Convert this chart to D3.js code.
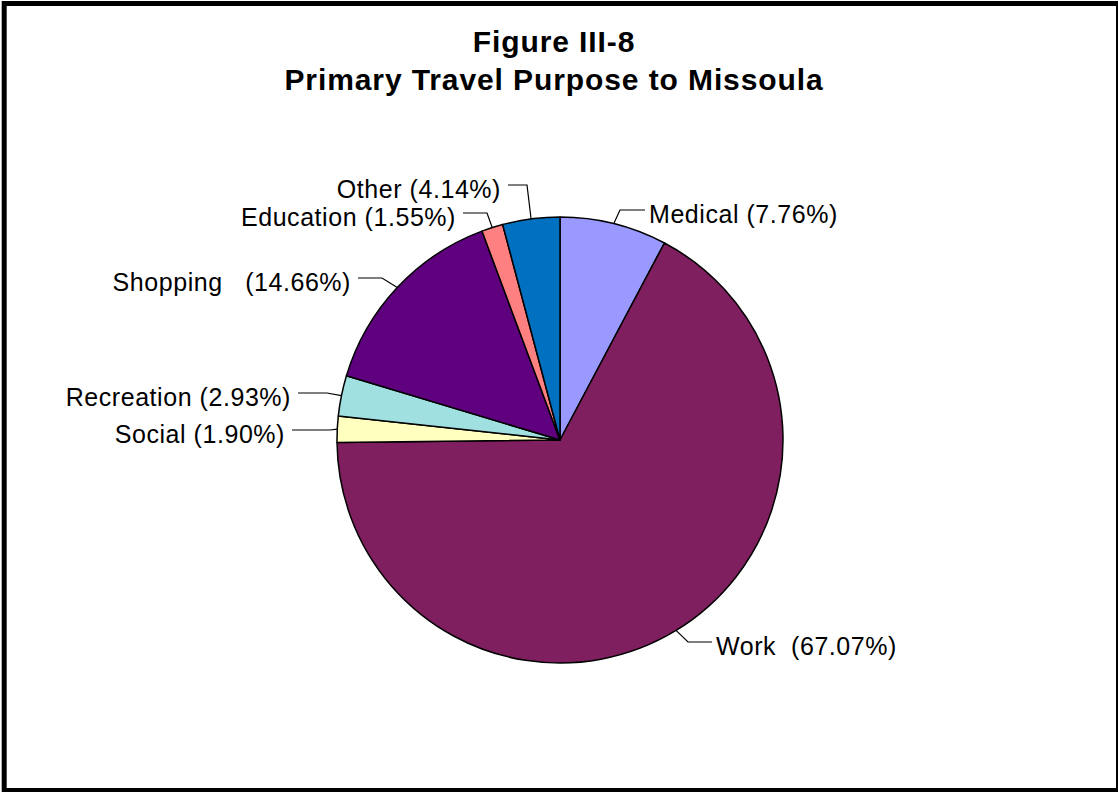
<!DOCTYPE html>
<html>
<head>
<meta charset="utf-8">
<script src="https://cdn.jsdelivr.net/npm/d3@7"></script>
<style>
  html, body { margin: 0; padding: 0; background: #fff; }
  svg { display: block; }
  text { font-family: Arial, "Liberation Sans", sans-serif; fill: #000; white-space: pre; }
</style>
</head>
<body>
<svg id="chart" width="1118" height="792"></svg>
<script>
// Trip purposes, clockwise from 12 o'clock
const categories = ["Medical", "Work", "Social", "Recreation", "Shopping", "Education", "Other"];
const shares = [7.76, 67.07, 1.90, 2.93, 14.66, 1.55, 4.14];
const labelText = [
  "Medical (7.76%)",
  "Work  (67.07%)",
  "Social (1.90%)",
  "Recreation (2.93%)",
  "Shopping   (14.66%)",
  "Education (1.55%)",
  "Other (4.14%)"
];
const sliceColors = ["#9999ff", "#7f1f5f", "#ffffc0", "#a0e0e0", "#5f007f", "#ff8080", "#0070c0"];
const titleLines = ["Figure III-8", "Primary Travel Purpose to Missoula"];

// Label placement: end of leader line (lx, ly), horizontal run length, text side
const labelLayout = {
  "Medical":    { lx: 645, ly: 210, run: 25, side: "right" },
  "Work":       { lx: 712, ly: 642, run: 24, side: "right" },
  "Social":     { lx: 292, ly: 430, run: 38, side: "left" },
  "Recreation": { lx: 298, ly: 393, run: 29, side: "left" },
  "Shopping":   { lx: 358, ly: 278, run: 24, side: "left" },
  "Education":  { lx: 463, ly: 213, run: 24, side: "left" },
  "Other":      { lx: 508, ly: 185, run: 19, side: "left" }
};

const svg = d3.select("#chart");
const W = 1118, H = 792;

svg.append("rect").attr("width", W).attr("height", H).attr("fill", "#fff");

// outer frame
svg.append("rect")
  .attr("x", 4.2).attr("y", 3.5)
  .attr("width", 1114.3).attr("height", 787)
  .attr("fill", "none").attr("stroke", "#000").attr("stroke-width", 5);

// title
svg.append("g").selectAll("text")
  .data(titleLines)
  .join("text")
  .attr("x", 554)
  .attr("y", (d, i) => 52 + i * 38)
  .attr("text-anchor", "middle")
  .attr("font-size", 30)
  .attr("font-weight", "bold")
  .attr("letter-spacing", 0.9)
  .text(d => d);

const cx = 560, cy = 440, R = 223;
const data = categories.map((c, i) => ({ name: c, value: shares[i], label: labelText[i], color: sliceColors[i] }));

const pie = d3.pie().value(d => d.value).sort(null);
const arc = d3.arc().innerRadius(0).outerRadius(R);
const arcs = pie(data);

const g = svg.append("g").attr("transform", `translate(${cx},${cy})`);

g.selectAll("path")
  .data(arcs)
  .join("path")
  .attr("d", arc)
  .attr("fill", d => d.data.color)
  .attr("stroke", "#000")
  .attr("stroke-width", 1.5)
  .attr("stroke-linejoin", "round");

// leader lines and labels
const labels = svg.append("g");
arcs.forEach(a => {
  const L = labelLayout[a.data.name];
  const mid = (a.startAngle + a.endAngle) / 2;
  const px = cx + R * Math.sin(mid);
  const py = cy - R * Math.cos(mid);
  const ex = L.side === "right" ? L.lx - L.run : L.lx + L.run;
  labels.append("polyline")
    .attr("points", [[px, py], [ex, L.ly], [L.lx, L.ly]].map(p => p.join(",")).join(" "))
    .attr("fill", "none")
    .attr("stroke", "#000")
    .attr("stroke-width", 1.2);
  labels.append("text")
    .attr("x", L.side === "right" ? L.lx + 4 : L.lx - 7)
    .attr("y", L.ly + 13)
    .attr("text-anchor", L.side === "right" ? "start" : "end")
    .attr("font-size", 25)
    .attr("letter-spacing", 0.55)
    .text(a.data.label);
});
</script>
</body>
</html>
